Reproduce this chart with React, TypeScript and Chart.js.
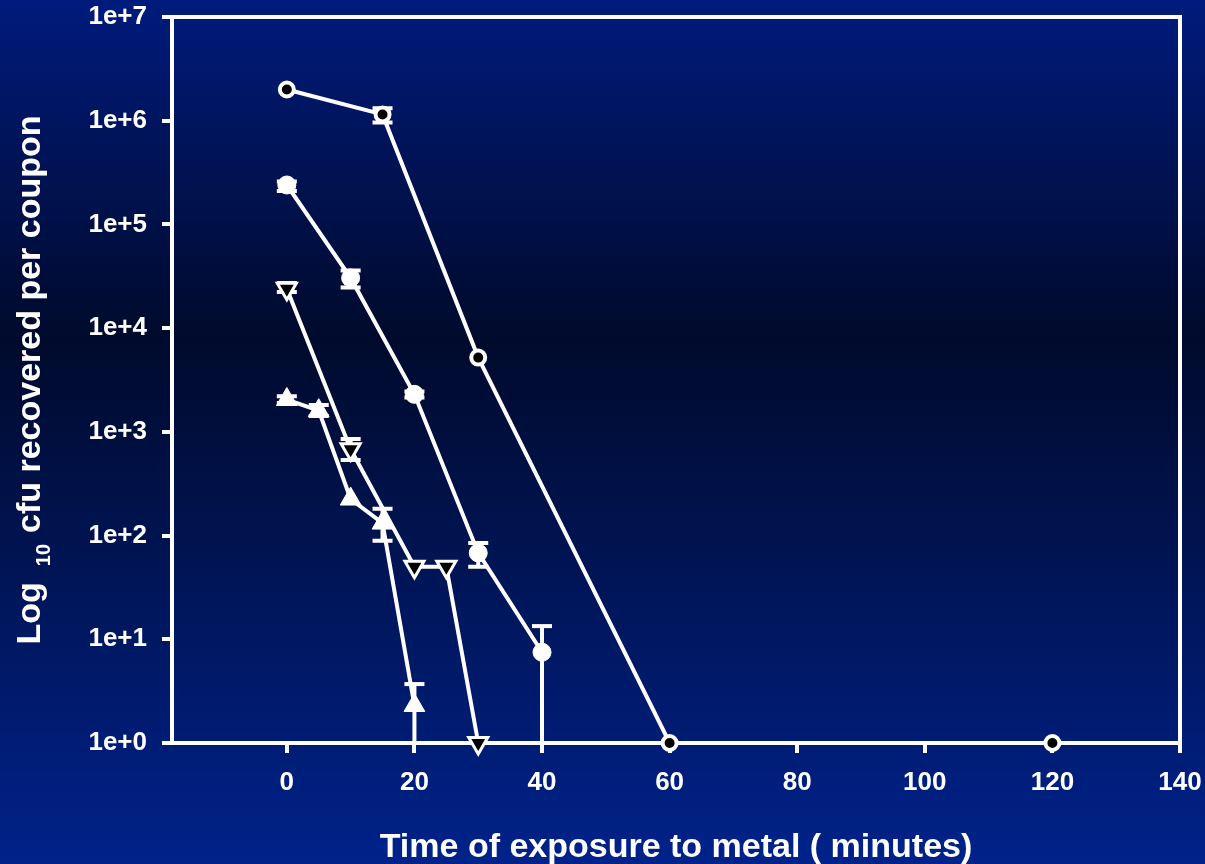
import React, { useEffect, useRef } from "react";
import { Chart, registerables } from "chart.js";

Chart.register(...registerables);

const FONT = "'Liberation Sans', Arial, Helvetica, sans-serif";

// Axis ticks
const xTicks = [0, 20, 40, 60, 80, 100, 120, 140];
const yTicks = [1, 10, 100, 1e3, 1e4, 1e5, 1e6, 1e7];

const xTitle = "Time of exposure to metal ( minutes)";
const yTitleMain = "Log";
const yTitleSub = "10";
const yTitleRest = "cfu recovered per coupon";

// Series 1: open circle (black centre)
const openCircleTime = [0, 15, 30, 60, 120];
const openCircleCfu = [2.0e6, 1.15e6, 5.2e3, 1, 1];
const openCircleErrLow = [null, 9.6e5, null, null, null];
const openCircleErrHigh = [null, 1.32e6, null, null, null];

// Series 2: filled circle
const filledCircleTime = [0, 10, 20, 30, 40];
const filledCircleCfu = [2.4e5, 3.05e4, 2.3e3, 68, 7.5];
const filledCircleErrLow = [2.1e5, 2.46e4, 2.15e3, 50, 1];
const filledCircleErrHigh = [2.6e5, 3.6e4, 2.45e3, 85, 13.4];

// Series 3: open down-triangle
const openTriTime = [0, 10, 20, 25, 30];
const openTriCfu = [2.4e4, 680, 50, 50, 1];
const openTriErrLow = [2.23e4, 536, null, null, null];
const openTriErrHigh = [2.73e4, 855, null, null, null];

// Series 4: filled up-triangle
const filledTriTime = [0, 5, 10, 15, 20];
const filledTriCfu = [2.05e3, 1.6e3, 225, 132, 2.3];
const filledTriErrLow = [1.9e3, 1.42e3, null, 89, 1];
const filledTriErrHigh = [2.2e3, 1.82e3, null, 181, 3.7];

const errorSets = [
  { low: openCircleErrLow, high: openCircleErrHigh },
  { low: filledCircleErrLow, high: filledCircleErrHigh },
  { low: openTriErrLow, high: openTriErrHigh },
  { low: filledTriErrLow, high: filledTriErrHigh },
];

const toPoints = (xs: number[], ys: number[]) => xs.map((x, i) => ({ x, y: ys[i] }));

const LW = 4;

const bgPlugin = {
  id: "bgGradient",
  beforeDraw(chart: any) {
    const { ctx, width, height } = chart;
    const g = ctx.createLinearGradient(0, 0, 0, height);
    g.addColorStop(0, "#001b7c");
    g.addColorStop(0.39, "#000a2c");
    g.addColorStop(1, "#00228a");
    ctx.save();
    ctx.fillStyle = g;
    ctx.fillRect(0, 0, width, height);
    ctx.restore();
  },
};

const errorPlugin = {
  id: "errorBars",
  beforeDatasetsDraw(chart: any) {
    const { ctx, scales } = chart;
    const xs = scales.x;
    const ys = scales.y;
    ctx.save();
    ctx.strokeStyle = "#ffffff";
    ctx.lineWidth = LW;
    chart.data.datasets.forEach((ds: any, di: number) => {
      const e = errorSets[di];
      if (!e) return;
      ds.data.forEach((p: any, i: number) => {
        const lo = e.low[i];
        const hi = e.high[i];
        if (lo == null || hi == null) return;
        const px = xs.getPixelForValue(p.x);
        const yLo = Math.min(ys.getPixelForValue(Math.max(lo, 1)), chart.chartArea.bottom);
        const yHi = ys.getPixelForValue(hi);
        ctx.beginPath();
        ctx.moveTo(px, yLo);
        ctx.lineTo(px, yHi);
        ctx.stroke();
        const cw = 10;
        ctx.beginPath();
        ctx.moveTo(px - cw, yHi);
        ctx.lineTo(px + cw, yHi);
        if (lo > 1) {
          ctx.moveTo(px - cw, yLo);
          ctx.lineTo(px + cw, yLo);
        }
        ctx.stroke();
      });
    });
    ctx.restore();
  },
};

const framePlugin = {
  id: "frameTitles",
  afterDraw(chart: any) {
    const { ctx, chartArea } = chart;
    ctx.save();
    ctx.strokeStyle = "#ffffff";
    ctx.lineWidth = LW;
    ctx.beginPath();
    ctx.moveTo(chartArea.left, chartArea.top);
    ctx.lineTo(chartArea.right, chartArea.top);
    ctx.lineTo(chartArea.right, chartArea.bottom);
    ctx.stroke();

    ctx.fillStyle = "#ffffff";
    // X title
    ctx.font = `bold 34px ${FONT}`;
    ctx.textAlign = "center";
    ctx.textBaseline = "alphabetic";
    ctx.fillText(xTitle, (chartArea.left + chartArea.right) / 2, 857);

    // Y title with subscript
    const mainFont = `bold 34px ${FONT}`;
    const subFont = `bold 20px ${FONT}`;
    ctx.font = mainFont;
    const wMain = ctx.measureText(yTitleMain).width;
    const wRest = ctx.measureText(yTitleRest).width;
    ctx.font = subFont;
    const wSub = ctx.measureText(yTitleSub).width;
    const gap1 = 16;
    const gap2 = 11;
    const total = wMain + gap1 + wSub + gap2 + wRest;
    const cy = 380;
    ctx.translate(40, cy);
    ctx.rotate(-Math.PI / 2);
    ctx.textAlign = "left";
    let x = -total / 2;
    ctx.font = mainFont;
    ctx.fillText(yTitleMain, x, 0);
    x += wMain + gap1;
    ctx.font = subFont;
    ctx.fillText(yTitleSub, x, 10);
    x += wSub + gap2;
    ctx.font = mainFont;
    ctx.fillText(yTitleRest, x, 0);
    ctx.restore();
  },
};

const zeroPad = (scale: any) => {
  scale.paddingTop = 0;
  scale.paddingBottom = 0;
  scale.paddingLeft = 0;
  scale.paddingRight = 0;
};

export default function App() {
  const canvasRef = useRef<HTMLCanvasElement | null>(null);

  useEffect(() => {
    document.body.style.margin = "0";
    const canvas = canvasRef.current;
    if (!canvas) return;

    const lineCommon = {
      showLine: true,
      borderColor: "#ffffff",
      borderWidth: LW,
      pointBorderColor: "#ffffff",
      pointBorderWidth: LW,
      clip: false as any,
      tension: 0,
    };

    const chart = new Chart(canvas, {
      type: "scatter",
      data: {
        datasets: [
          {
            ...lineCommon,
            label: "open circle",
            data: toPoints(openCircleTime, openCircleCfu),
            pointStyle: "circle",
            pointRadius: 7,
            pointBackgroundColor: "#000000",
          },
          {
            ...lineCommon,
            label: "filled circle",
            data: toPoints(filledCircleTime, filledCircleCfu),
            pointStyle: "circle",
            pointRadius: 9,
            pointBackgroundColor: "#ffffff",
            pointBorderWidth: 1,
          },
          {
            ...lineCommon,
            label: "open triangle",
            data: toPoints(openTriTime, openTriCfu),
            pointStyle: "triangle",
            pointRotation: 180,
            pointRadius: 11,
            pointBorderWidth: 3,
            pointBackgroundColor: "#000000",
          },
          {
            ...lineCommon,
            label: "filled triangle",
            data: toPoints(filledTriTime, filledTriCfu),
            pointStyle: "triangle",
            pointRadius: 12,
            pointBackgroundColor: "#ffffff",
            pointBorderWidth: 1,
          },
        ] as any,
      },
      options: {
        responsive: false,
        animation: false,
        events: [],
        layout: { padding: { top: 17, right: 25, left: 0, bottom: 0 } },
        plugins: {
          legend: { display: false },
          tooltip: { enabled: false },
          title: { display: false },
        },
        scales: {
          x: {
            type: "linear",
            min: -18,
            max: 140,
            afterBuildTicks: (scale: any) => {
              scale.ticks = xTicks.map((v) => ({ value: v }));
            },
            afterFit: (scale: any) => {
              scale.height = 121;
              zeroPad(scale);
            },
            grid: {
              display: true,
              drawOnChartArea: false,
              drawTicks: true,
              tickLength: 10,
              color: "#ffffff",
              lineWidth: LW,
            },
            border: { display: true, color: "#ffffff", width: LW },
            ticks: {
              color: "#ffffff",
              font: { family: FONT, weight: "bold", size: 26 },
              padding: 14,
              maxRotation: 0,
              autoSkip: false,
              callback: (v: any) => String(v),
            },
          },
          y: {
            type: "logarithmic",
            min: 1,
            max: 1e7,
            afterBuildTicks: (scale: any) => {
              scale.ticks = yTicks.map((v) => ({ value: v }));
            },
            afterFit: (scale: any) => {
              scale.width = 172;
              zeroPad(scale);
            },
            grid: {
              display: true,
              drawOnChartArea: false,
              drawTicks: true,
              tickLength: 10,
              color: "#ffffff",
              lineWidth: LW,
            },
            border: { display: true, color: "#ffffff", width: LW },
            ticks: {
              color: "#ffffff",
              font: { family: FONT, weight: "bold", size: 26 },
              padding: 15,
              autoSkip: false,
              callback: (v: any) => `1e+${Math.round(Math.log10(Number(v)))}`,
            },
          },
        },
      } as any,
      plugins: [bgPlugin, errorPlugin, framePlugin],
    });

    return () => chart.destroy();
  }, []);

  return (
    <div style={{ width: 1205, height: 864, position: "relative" }}>
      <canvas ref={canvasRef} width={1205} height={864} style={{ display: "block", width: 1205, height: 864 }} />
    </div>
  );
}
